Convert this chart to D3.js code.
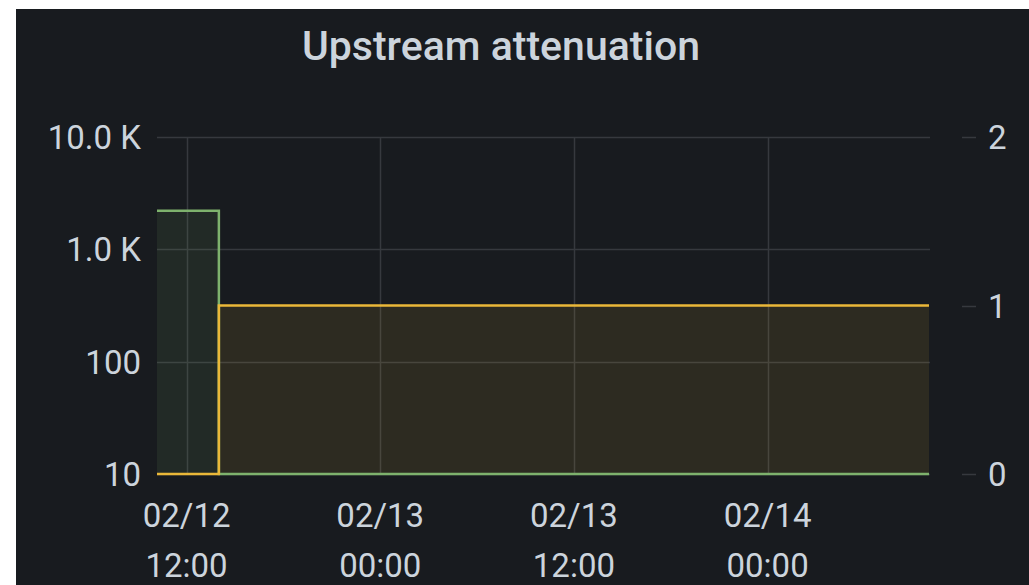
<!DOCTYPE html>
<html><head><meta charset="utf-8">
<script src="https://cdn.jsdelivr.net/npm/d3@7"></script>
<style>
html,body{margin:0;padding:0;background:#fff;}
svg{display:block;}
</style></head>
<body>
<svg id="c" width="1029" height="585"></svg>
<script>
// Data
const title = "Upstream attenuation";
const timeDomain = ["2023-02-12T10:10:00", "2023-02-14T10:00:00"];
const greenTimes = ["2023-02-12T10:10:00", "2023-02-12T14:00:00", "2023-02-14T10:00:00"];
const greenValues = [2200, 10, 10];        // left log axis
const yellowTimes = ["2023-02-12T10:10:00", "2023-02-12T14:00:00", "2023-02-14T10:00:00"];
const yellowValues = [0, 1, 1];            // right linear axis
const leftTicks = [10, 100, 1000, 10000];
const leftTickLabels = ["10", "100", "1.0 K", "10.0 K"];
const rightTicks = [0, 1, 2];
const xTicks = ["2023-02-12T12:00:00", "2023-02-13T00:00:00", "2023-02-13T12:00:00", "2023-02-14T00:00:00"];

const parse = d3.isoParse;
const svg = d3.select("#c");
const panel = {x: 16, y: 9, w: 1013, h: 576};
const plot = {l: 157, r: 929, t: 137, b: 474};

svg.append("rect").attr("x", panel.x).attr("y", panel.y).attr("width", panel.w).attr("height", panel.h).attr("fill", "#181b1f");

const x = d3.scaleTime().domain(timeDomain.map(parse)).range([plot.l, plot.r]);
const yL = d3.scaleLog().domain([10, 10000]).range([plot.b, plot.t]);
const yR = d3.scaleLinear().domain([0, 2]).range([plot.b, plot.t]);

const font = "Roboto, 'Open Sans', sans-serif";
const textCol = "#ccd4dc";
const gridCol = "#36393e";
const fs = 33;

// Title
svg.append("text").attr("x", 501).attr("y", 60).attr("text-anchor", "middle")
  .attr("font-family", font).attr("font-weight", 500).attr("font-size", 41)
  .attr("fill", textCol).text(title);

// Grid
const g = svg.append("g");
g.selectAll("line.h").data(leftTicks).enter().append("line")
  .attr("x1", plot.l).attr("x2", plot.r + 1)
  .attr("y1", d => Math.round(yL(d)) + 0.5).attr("y2", d => Math.round(yL(d)) + 0.5)
  .attr("stroke", gridCol).attr("stroke-width", 1.5);
g.selectAll("line.v").data(xTicks).enter().append("line")
  .attr("x1", d => Math.round(x(parse(d))) + 0.5).attr("x2", d => Math.round(x(parse(d))) + 0.5)
  .attr("y1", plot.t).attr("y2", plot.b)
  .attr("stroke", gridCol).attr("stroke-width", 1.5);

// Series
const greenData = greenTimes.map((t, i) => ({t: parse(t), v: greenValues[i]}));
const yellowData = yellowTimes.map((t, i) => ({t: parse(t), v: yellowValues[i]}));

const gArea = d3.area().curve(d3.curveStepAfter).x(d => x(d.t)).y0(plot.b).y1(d => yL(d.v));
const gLine = d3.line().curve(d3.curveStepAfter).x(d => x(d.t)).y(d => yL(d.v));
const yArea = d3.area().curve(d3.curveStepAfter).x(d => x(d.t)).y0(plot.b).y1(d => yR(d.v));
const yLine = d3.line().curve(d3.curveStepAfter).x(d => x(d.t)).y(d => yR(d.v));

const green = "#7eb26d", yellow = "#eab839";
svg.append("path").datum(greenData).attr("d", gArea).attr("fill", green).attr("fill-opacity", 0.1);
svg.append("path").datum(yellowData).attr("d", yArea).attr("fill", yellow).attr("fill-opacity", 0.1);
svg.append("path").datum(greenData).attr("d", gLine).attr("fill", "none").attr("stroke", green).attr("stroke-width", 2.5);
svg.append("path").datum(yellowData).attr("d", yLine).attr("fill", "none").attr("stroke", yellow).attr("stroke-width", 2.5);

// Left axis labels
svg.append("g").selectAll("text").data(leftTicks).enter().append("text")
  .attr("x", 141).attr("y", d => yL(d) + 12)
  .attr("text-anchor", "end").attr("font-family", font).attr("font-size", fs)
  .attr("fill", textCol).text((d, i) => leftTickLabels[i]);

// Right axis
const ra = svg.append("g");
ra.selectAll("line").data(rightTicks).enter().append("line")
  .attr("x1", 962).attr("x2", 976).attr("y1", d => Math.round(yR(d)) + 0.5).attr("y2", d => Math.round(yR(d)) + 0.5)
  .attr("stroke", gridCol).attr("stroke-width", 1.5);
ra.selectAll("text").data(rightTicks).enter().append("text")
  .attr("x", 988).attr("y", d => yR(d) + 12)
  .attr("font-family", font).attr("font-size", fs).attr("fill", textCol).text(d => d);

// X axis labels
const fmt1 = d3.timeFormat("%m/%d"), fmt2 = d3.timeFormat("%H:%M");
const xa = svg.append("g");
xTicks.forEach(t => {
  const d = parse(t);
  xa.append("text").attr("x", x(d)).attr("y", 527).attr("text-anchor", "middle")
    .attr("font-family", font).attr("font-size", fs).attr("fill", textCol).text(fmt1(d));
  xa.append("text").attr("x", x(d)).attr("y", 577).attr("text-anchor", "middle")
    .attr("font-family", font).attr("font-size", fs).attr("fill", textCol).text(fmt2(d));
});
</script>
</body></html>
